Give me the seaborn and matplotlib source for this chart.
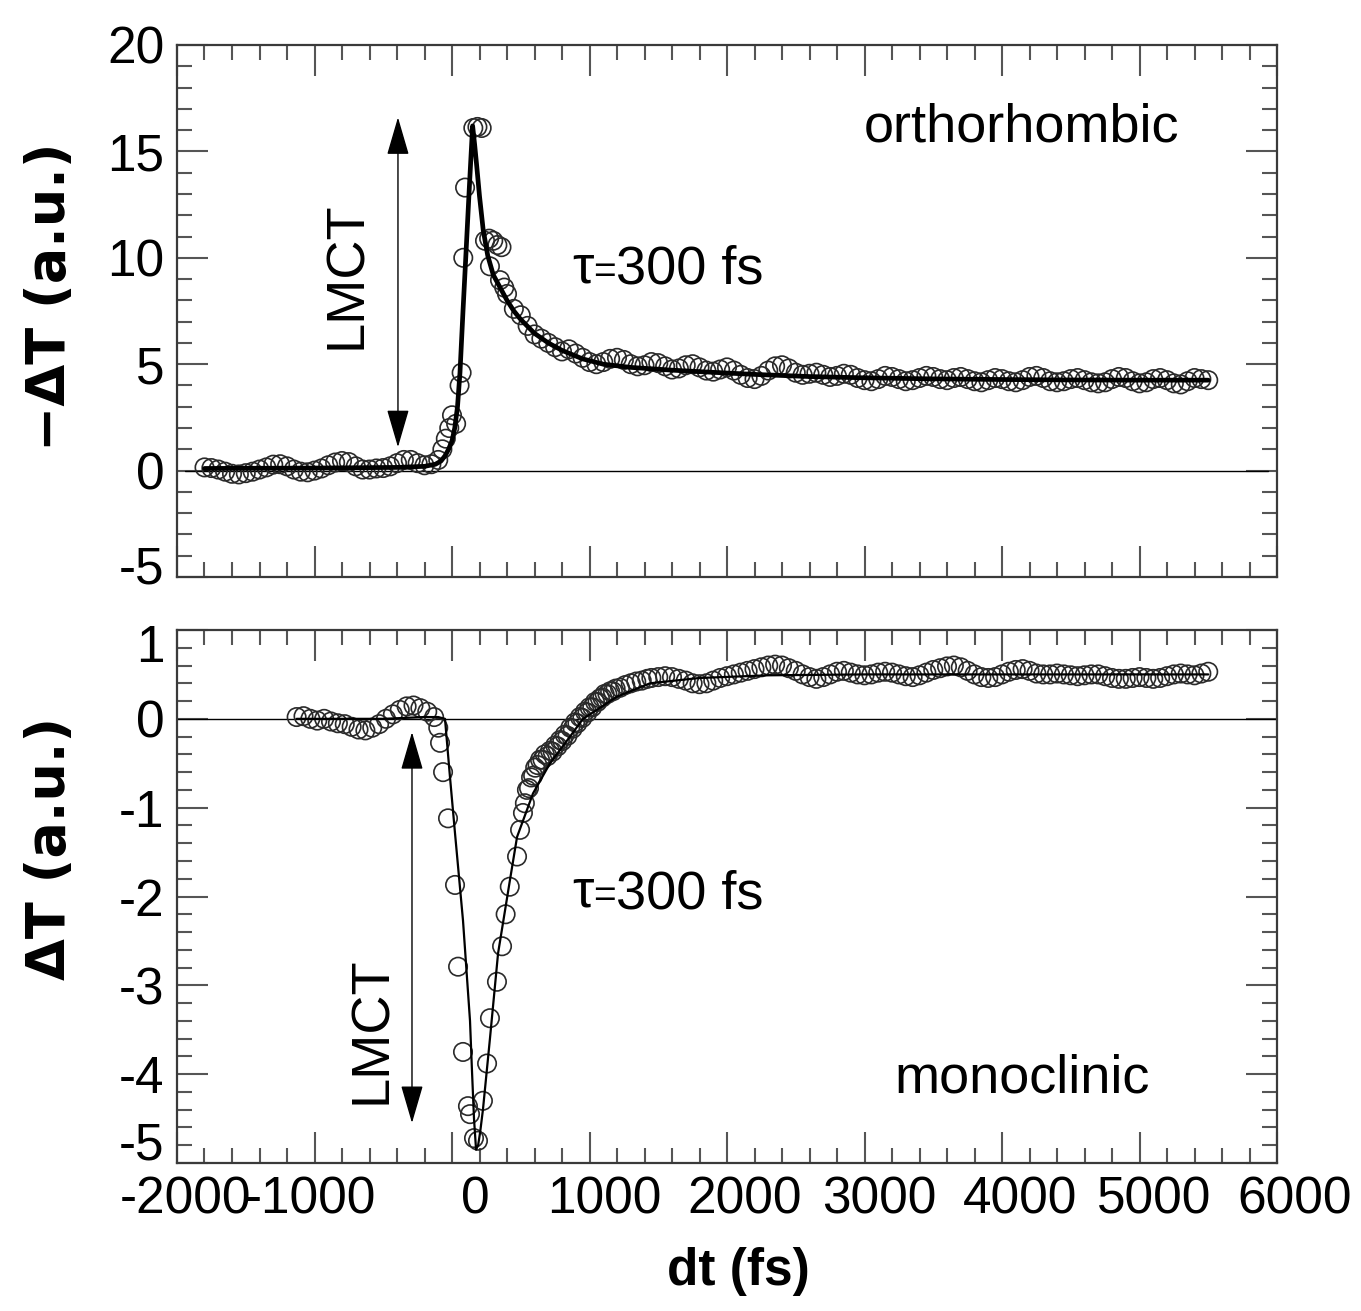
import numpy as np
import pandas as pd
import matplotlib
matplotlib.use("Agg")
import matplotlib.pyplot as plt
import matplotlib.transforms as mtransforms
import seaborn as sns
from matplotlib.ticker import MultipleLocator

# ---------------- data ----------------
# orthorhombic (top): -dT measured points
top_dt = [-1800, -1750, -1700, -1650, -1600, -1550, -1500, -1450, -1400, -1350,
          -1300, -1250, -1200, -1150, -1100, -1050, -1000, -950, -900, -850,
          -800, -750, -700, -650, -600, -550, -500, -450, -400, -350,
          -300, -250, -200, -150, -100, -70, -45, -20, 0, 30,
          55, 70, 82, 95, 155, 185, 216, 240, 270, 300,
          330, 360, 276, 349, 380,
          400, 450, 500, 550, 600, 650, 700, 750, 800, 850,
          900, 950, 1000, 1050, 1100, 1150, 1200, 1250, 1300, 1350,
          1400, 1450, 1500, 1550, 1600, 1650, 1700, 1750, 1800, 1850,
          1900, 1950, 2000, 2050, 2100, 2150, 2200, 2250, 2300, 2350,
          2400, 2450, 2500, 2550, 2600, 2650, 2700, 2750, 2800, 2850,
          2900, 2950, 3000, 3050, 3100, 3150, 3200, 3250, 3300, 3350,
          3400, 3450, 3500, 3550, 3600, 3650, 3700, 3750, 3800, 3850,
          3900, 3950, 4000, 4050, 4100, 4150, 4200, 4250, 4300, 4350,
          4400, 4450, 4500, 4550, 4600, 4650, 4700, 4750, 4800, 4850,
          4900, 4950, 5000, 5050, 5100, 5150, 5200, 5250, 5300, 5350,
          5400, 5450, 5500]
top_val = [0.15, 0.12, 0.05, -0.05, -0.15, -0.18, -0.12, -0.05, 0.05, 0.15,
           0.28, 0.30, 0.20, 0.05, -0.05, -0.08, 0.00, 0.10, 0.25, 0.38,
           0.45, 0.40, 0.20, 0.05, 0.05, 0.10, 0.12, 0.20, 0.35, 0.50,
           0.50, 0.35, 0.25, 0.30, 0.50, 1.00, 1.50, 2.00, 2.60, 2.20,
           4.00, 4.60, 10.0, 13.3, 16.1, 16.15, 16.1, 10.8, 10.9, 10.8,
           10.6, 10.5, 9.6, 8.95, 8.6,
           8.3, 7.6, 7.3, 6.8, 6.4, 6.2, 6.0, 5.8, 5.6, 5.7,
           5.5, 5.3, 5.1, 5.0, 5.1, 5.25, 5.3, 5.2, 5.0, 4.9,
           4.95, 5.1, 5.05, 4.9, 4.75, 4.8, 4.95, 5.0, 4.85, 4.7,
           4.65, 4.75, 4.85, 4.7, 4.5, 4.35, 4.3, 4.45, 4.7, 4.9,
           4.95, 4.8, 4.6, 4.5, 4.55, 4.6, 4.5, 4.4, 4.45, 4.55,
           4.5, 4.35, 4.25, 4.2, 4.3, 4.45, 4.4, 4.3, 4.2, 4.25,
           4.35, 4.45, 4.4, 4.3, 4.25, 4.35, 4.4, 4.3, 4.2, 4.15,
           4.25, 4.35, 4.3, 4.2, 4.15, 4.25, 4.4, 4.45, 4.35, 4.2,
           4.15, 4.2, 4.3, 4.35, 4.25, 4.15, 4.1, 4.15, 4.3, 4.4,
           4.35, 4.2, 4.1, 4.15, 4.3, 4.35, 4.25, 4.1, 4.05, 4.2,
           4.35, 4.3, 4.25]

# orthorhombic fit curve
top_fit_dt = [-1800, -1000, -400, -200, -120, -80, -50, -25, 0, 20,
              40, 58, 80, 100, 126, 150, 165, 180, 200, 227,
              260, 300, 350, 400, 450, 500, 600, 700, 800, 950,
              1100, 1300, 1600, 1800, 2200, 2600, 3000, 3500, 4000, 4500,
              5000, 5500]
top_fit_val = [0.10, 0.12, 0.15, 0.20, 0.30, 0.45, 0.70, 1.00, 1.40, 2.00,
               3.00, 4.60, 7.50, 10.0, 13.3, 16.2, 15.3, 14.3, 12.9, 11.3,
               10.1, 9.2, 8.6, 8.0, 7.5, 7.1, 6.45, 6.0, 5.65, 5.25,
               5.0, 4.85, 4.72, 4.65, 4.52, 4.42, 4.36, 4.31, 4.28, 4.26,
               4.25, 4.25]

# monoclinic (bottom): dT measured points
bot_dt = [-1130, -1080, -1030, -980, -930, -880, -830, -780, -730, -680,
          -630, -580, -530, -480, -430, -380, -330, -280, -230, -180,
          -130, -100, -87, -65, -29, 22, 44, 80, 116, 131,
          160, 189, 225, 255, 276, 327, 364, 390, 420, 473,
          495, 516, 530, 545, 560, 575, 590, 605, 622, 640,
          658, 675, 695, 713, 732, 750, 768, 785, 802, 820,
          840, 860, 878, 895, 912, 930, 948, 967, 985, 1000,
          1020, 1040, 1058, 1076, 1093, 1110, 1130, 1150, 1170, 1190,
          1222, 1260, 1300, 1340, 1380, 1420,
          1450, 1500, 1550, 1600, 1650, 1700, 1750, 1800, 1850, 1900,
          1950, 2000, 2050, 2100, 2150, 2200, 2250, 2300, 2350, 2400,
          2450, 2500, 2550, 2600, 2650, 2700, 2750, 2800, 2850, 2900,
          2950, 3000, 3050, 3100, 3150, 3200, 3250, 3300, 3350, 3400,
          3450, 3500, 3550, 3600, 3650, 3700, 3750, 3800, 3850, 3900,
          3950, 4000, 4050, 4100, 4150, 4200, 4250, 4300, 4350, 4400,
          4450, 4500, 4550, 4600, 4650, 4700, 4750, 4800, 4850, 4900,
          4950, 5000, 5050, 5100, 5150, 5200, 5250, 5300, 5350, 5400,
          5450, 5500]
bot_val = [0.02, 0.03, 0.00, -0.02, 0.00, -0.03, -0.05, -0.06, -0.09, -0.12,
           -0.13, -0.10, -0.06, 0.00, 0.05, 0.10, 0.14, 0.15, 0.12, 0.08,
           0.02, -0.10, -0.27, -0.60, -1.12, -1.87, -2.79, -3.75, -4.36, -4.45,
           -4.72, -4.75, -4.30, -3.88, -3.37, -2.96, -2.56, -2.20, -1.89, -1.55,
           -1.25, -1.06, -0.95, -0.80, -0.78, -0.66, -0.64, -0.55, -0.52, -0.46,
           -0.46, -0.40, -0.42, -0.36, -0.37, -0.30, -0.31, -0.24, -0.25, -0.18,
           -0.19, -0.10, -0.11, -0.04, -0.05, 0.02, 0.01, 0.08, 0.07, 0.13,
           0.13, 0.19, 0.19, 0.23, 0.24, 0.28, 0.28, 0.31, 0.31, 0.34,
           0.35, 0.38, 0.40, 0.42, 0.43, 0.45,
           0.46, 0.47, 0.48, 0.47, 0.45, 0.43, 0.40, 0.39, 0.40, 0.43,
           0.46, 0.48, 0.50, 0.52, 0.54, 0.56, 0.58, 0.60, 0.61, 0.60,
           0.57, 0.54, 0.50, 0.47, 0.45, 0.47, 0.50, 0.53, 0.54, 0.52,
           0.50, 0.49, 0.50, 0.52, 0.53, 0.52, 0.50, 0.48, 0.47, 0.49,
           0.52, 0.55, 0.57, 0.59, 0.60, 0.58, 0.54, 0.50, 0.47, 0.46,
           0.47, 0.50, 0.53, 0.55, 0.56, 0.54, 0.51, 0.50, 0.50, 0.51,
           0.50, 0.49, 0.48, 0.49, 0.50, 0.50, 0.48, 0.46, 0.45, 0.45,
           0.46, 0.47, 0.46, 0.45, 0.46, 0.48, 0.50, 0.51, 0.50, 0.49,
           0.51, 0.53]

# monoclinic fit curve
bot_fit_dt = [-1130, -500, -200, -100, -51, -15, 22, 80, 131, 145,
              160, 175, 190, 205, 225, 276, 335, 422, 473, 589,
              713, 858, 953, 1200, 1440, 1800, 2300, 3000, 4000, 5500]
bot_fit_val = [0.0, 0.0, 0.02, 0.02, 0.0, -0.65, -1.29, -2.27, -3.40, -3.95,
               -4.50, -4.85, -4.80, -4.65, -4.40, -3.60, -2.64, -1.81, -1.33, -0.84,
               -0.50, -0.20, 0.0, 0.25, 0.40, 0.46, 0.49, 0.50, 0.50, 0.50]

x_ticks = [-2000, -1000, 0, 1000, 2000, 3000, 4000, 5000, 6000]
top_yticks = [-5, 0, 5, 10, 15, 20]
bot_yticks = [-5, -4, -3, -2, -1, 0, 1]

# ---------------- styling ----------------
sns.set_theme(style="ticks")
plt.rcParams["font.family"] = ["Liberation Sans", "DejaVu Sans"]
plt.rcParams["axes.unicode_minus"] = False
plt.rcParams["text.color"] = "black"
plt.rcParams["axes.labelcolor"] = "black"
plt.rcParams["xtick.labelcolor"] = "black"
plt.rcParams["ytick.labelcolor"] = "black"

W, H = 1361, 1311
fig = plt.figure(figsize=(W / 100, H / 100), dpi=100)

def fbox(l, t, r, b):
    return [l / W, 1 - b / H, (r - l) / W, (b - t) / H]

ax1 = fig.add_axes(fbox(177, 45, 1277, 577))
ax2 = fig.add_axes(fbox(177, 630, 1277, 1163))

FS = 37
AFS = 39
spine_col = "#3a3a3a"
tick_col = "#555555"

def style_axis(ax, ymin, ymax, yticks, yminor, show_xlabels):
    ax.set_xlim(-2000, 6000)
    ax.set_ylim(ymin, ymax)
    ax.set_xticks(x_ticks)
    ax.set_yticks(yticks)
    ax.xaxis.set_minor_locator(MultipleLocator(200))
    ax.yaxis.set_minor_locator(MultipleLocator(yminor))
    for s in ax.spines.values():
        s.set_visible(True)
        s.set_color(spine_col)
        s.set_linewidth(1.6)
    ax.tick_params(which="major", direction="in", length=22, width=1.5,
                   top=True, right=True, color=tick_col, pad=9,
                   labelsize=FS, labelcolor="black", labelbottom=show_xlabels)
    ax.tick_params(which="minor", direction="in", length=11, width=1.5,
                   top=True, right=True, color=tick_col)
    ax.set_xlabel("")
    ax.set_ylabel("")
    ax.set_facecolor("white")

def shift_label(lab, dx_px, dy_px):
    off = mtransforms.ScaledTranslation(dx_px / 100, dy_px / 100, fig.dpi_scale_trans)
    lab.set_transform(lab.get_transform() + off)

marker_kw = dict(marker="o", s=175, facecolor="none", edgecolor="#2a2a2a",
                 linewidth=1.2, zorder=3, legend=False)

# ---- top panel ----
df_top = pd.DataFrame({"dt": top_dt, "val": top_val})
df_topfit = pd.DataFrame({"dt": top_fit_dt, "val": top_fit_val})
ax1.axhline(0, xmin=0.007, xmax=0.992, color="black", lw=1.0, zorder=2)
sns.scatterplot(data=df_top, x="dt", y="val", ax=ax1, **marker_kw)
ax1.collections[-1].set_facecolor("none")
sns.lineplot(data=df_topfit, x="dt", y="val", ax=ax1, color="black", lw=3.4,
             zorder=4, legend=False)
style_axis(ax1, -5, 20, top_yticks, 1, False)

ax1.annotate("", xy=(-393, 16.6), xytext=(-393, 1.1),
             arrowprops=dict(arrowstyle="<|-|>,head_length=1.2,head_width=0.35",
                             color="black", lw=1.0, mutation_scale=20,
                             shrinkA=0, shrinkB=0), zorder=5)
ax1.text(-764, 9.2, "LMCT", rotation=90, ha="center", va="center", fontsize=AFS)
ax1.text(4145, 16.1, "orthorhombic", ha="center", va="center", fontsize=AFS)
t1 = ax1.text(873, 9.5, "\u03c4", ha="left", va="center", fontsize=AFS)
t2 = ax1.annotate("=", xy=(1, 0.05), xycoords=t1, ha="left", va="bottom",
                  fontsize=28)
ax1.annotate("300 fs", xy=(1, -0.1), xycoords=t2, ha="left", va="bottom",
             fontsize=AFS)

# ---- bottom panel ----
df_bot = pd.DataFrame({"dt": bot_dt, "val": bot_val})
df_botfit = pd.DataFrame({"dt": bot_fit_dt, "val": bot_fit_val})
ax2.axhline(0, color="black", lw=1.0, zorder=2)
sns.scatterplot(data=df_bot, x="dt", y="val", ax=ax2, **marker_kw)
ax2.collections[-1].set_facecolor("none")
sns.lineplot(data=df_botfit, x="dt", y="val", ax=ax2, color="black", lw=1.6,
             zorder=4, legend=False)
style_axis(ax2, -5, 1, bot_yticks, 0.2, True)

ax2.annotate("", xy=(-291, -0.15), xytext=(-291, -4.55),
             arrowprops=dict(arrowstyle="<|-|>,head_length=1.2,head_width=0.35",
                             color="black", lw=1.0, mutation_scale=20,
                             shrinkA=0, shrinkB=0), zorder=5)
ax2.text(-582, -3.5, "LMCT", rotation=90, ha="center", va="center", fontsize=AFS)
ax2.text(4145, -4.05, "monoclinic", ha="center", va="center", fontsize=AFS)
b1 = ax2.text(873, -1.96, "\u03c4", ha="left", va="center", fontsize=AFS)
b2 = ax2.annotate("=", xy=(1, 0.05), xycoords=b1, ha="left", va="bottom",
                  fontsize=28)
ax2.annotate("300 fs", xy=(1, -0.1), xycoords=b2, ha="left", va="bottom",
             fontsize=AFS)

# ---- tick label nudges (as placed in the reference) ----
fig.canvas.draw()
x_offsets = [8, -4, 23, 15, 18, 15, 18, 15, 18]
for lab, dx in zip(ax2.get_xticklabels(), x_offsets):
    shift_label(lab, dx, 0)
for lab in ax1.get_yticklabels():
    if lab.get_text() == "-5":
        shift_label(lab, 0, 12)
for lab in ax2.get_yticklabels():
    if lab.get_text() == "-5":
        shift_label(lab, 0, 22)
    elif lab.get_text() == "1":
        shift_label(lab, 0, -13)

# ---- axis titles ----
fig.text(50 / W, 1 - 297 / H, "\u2212\u0394T (a.u.)", rotation=90,
         ha="center", va="center", fontsize=39, fontweight="bold",
         family=["DejaVu Sans"])
fig.text(50 / W, 1 - 848 / H, "\u0394T (a.u.)", rotation=90,
         ha="center", va="center", fontsize=39, fontweight="bold",
         family=["DejaVu Sans"])
fig.text(738 / W, 1 - 1272 / H, "dt (fs)", ha="center", va="center",
         fontsize=FS, fontweight="bold")

fig.savefig("out.png", dpi=100, facecolor="white")
